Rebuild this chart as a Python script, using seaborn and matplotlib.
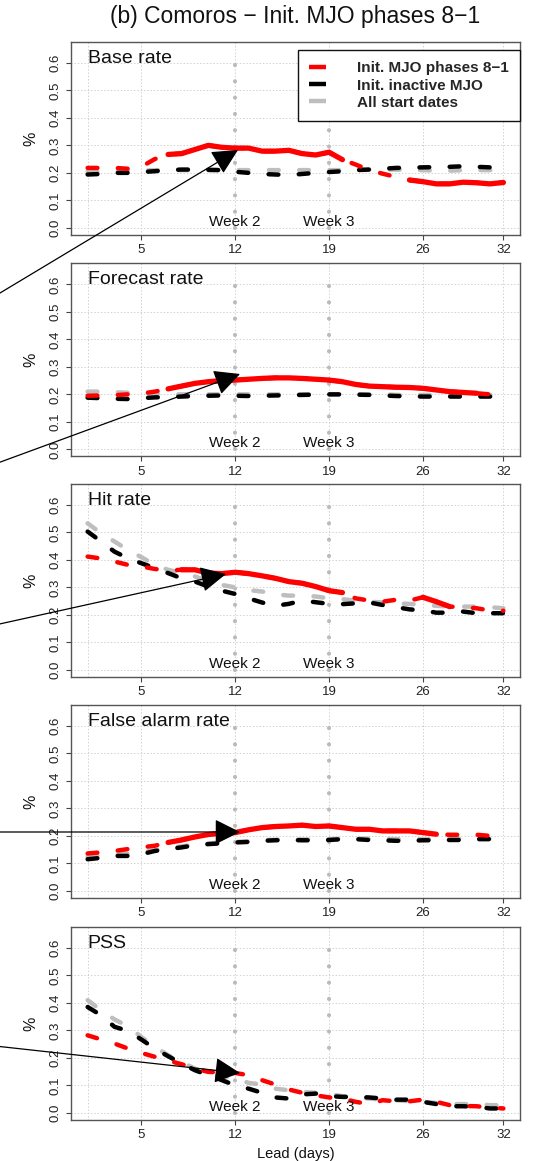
import matplotlib
matplotlib.use("Agg")
import matplotlib.pyplot as plt
import numpy as np
import pandas as pd
import seaborn as sns
from matplotlib.lines import Line2D
from matplotlib.patches import FancyArrowPatch

sns.set_theme(style="white")
plt.rcParams["font.family"] = ["Liberation Sans", "DejaVu Sans"]
plt.rcParams["lines.dash_capstyle"] = "round"
plt.rcParams["lines.solid_capstyle"] = "round"

# ---------------- data ----------------
days = list(range(1, 33))
panel_names = ["Base rate", "Forecast rate", "Hit rate", "False alarm rate", "PSS"]
series_names = ["Init. MJO phases 8\u22121", "Init. inactive MJO", "All start dates"]
title = "(b) Comoros \u2212 Init. MJO phases 8\u22121"
week_labels = ["Week 2", "Week 3"]
week_days = [12, 19]
xticks = [5, 12, 19, 26, 32]
xgrid = [1, 5, 12, 19, 26, 32]
yticks = [0.0, 0.1, 0.2, 0.3, 0.4, 0.5, 0.6]

base_red = [0.218, 0.218, 0.218, 0.215, 0.222, 0.25, 0.267, 0.27, 0.285, 0.30, 0.293, 0.29,
            0.29, 0.279, 0.279, 0.282, 0.27, 0.265, 0.275, 0.248, 0.23, 0.21, 0.197, 0.185,
            0.174, 0.168, 0.16, 0.16, 0.166, 0.164, 0.16, 0.165]
base_black = [0.194, 0.196, 0.2, 0.2, 0.203, 0.206, 0.21, 0.212, 0.212, 0.211, 0.21, 0.204,
              0.2, 0.196, 0.194, 0.192, 0.196, 0.2, 0.203, 0.206, 0.21, 0.212, 0.215, 0.218,
              0.219, 0.22, 0.221, 0.222, 0.224, 0.222, 0.22, 0.218]
base_gray = [0.205, 0.205, 0.207, 0.207, 0.208, 0.21, 0.21, 0.21, 0.21, 0.21, 0.21, 0.21,
             0.21, 0.21, 0.21, 0.21, 0.21, 0.21, 0.21, 0.21, 0.212, 0.212, 0.212, 0.212,
             0.21, 0.21, 0.208, 0.208, 0.21, 0.21, 0.21, 0.21]
base_sig = [(7, 20), (25, 32)]

fc_red = [0.195, 0.196, 0.197, 0.2, 0.203, 0.21, 0.22, 0.23, 0.24, 0.246, 0.25, 0.252,
          0.255, 0.258, 0.26, 0.26, 0.258, 0.255, 0.252, 0.246, 0.236, 0.23, 0.228, 0.226,
          0.225, 0.222, 0.216, 0.21, 0.207, 0.204, 0.2, 0.198]
fc_black = [0.188, 0.186, 0.184, 0.183, 0.186, 0.189, 0.19, 0.192, 0.194, 0.195, 0.196, 0.195,
            0.194, 0.195, 0.196, 0.197, 0.198, 0.199, 0.2, 0.2, 0.199, 0.198, 0.196, 0.194,
            0.193, 0.192, 0.192, 0.192, 0.192, 0.192, 0.192, 0.192]
fc_gray = [0.21, 0.21, 0.208, 0.206, 0.204, 0.202, 0.2, 0.2, 0.2, 0.2, 0.2, 0.2,
           0.2, 0.2, 0.2, 0.2, 0.2, 0.2, 0.2, 0.2, 0.2, 0.2, 0.2, 0.198,
           0.198, 0.198, 0.198, 0.198, 0.198, 0.198, 0.198, 0.198]
fc_sig = [(7, 30)]

hit_red = [0.412, 0.405, 0.394, 0.382, 0.376, 0.367, 0.361, 0.364, 0.364, 0.352, 0.35, 0.355,
           0.35, 0.342, 0.333, 0.321, 0.315, 0.303, 0.288, 0.281, 0.26, 0.252, 0.248, 0.255,
           0.252, 0.264, 0.248, 0.23, 0.228, 0.224, 0.216, 0.215]
hit_black = [0.503, 0.467, 0.43, 0.406, 0.388, 0.37, 0.352, 0.333, 0.321, 0.303, 0.288, 0.276,
             0.26, 0.245, 0.233, 0.24, 0.252, 0.246, 0.24, 0.239, 0.242, 0.245, 0.236, 0.228,
             0.22, 0.216, 0.208, 0.208, 0.212, 0.206, 0.206, 0.206]
hit_gray = [0.533, 0.497, 0.467, 0.436, 0.41, 0.382, 0.364, 0.352, 0.34, 0.321, 0.309, 0.3,
            0.29, 0.285, 0.275, 0.27, 0.27, 0.267, 0.26, 0.257, 0.252, 0.248, 0.245, 0.242,
            0.24, 0.236, 0.233, 0.23, 0.23, 0.23, 0.228, 0.224]
hit_sig = [(8, 20), (26, 28)]

far_red = [0.136, 0.14, 0.145, 0.152, 0.158, 0.164, 0.176, 0.185, 0.196, 0.205, 0.21, 0.212,
           0.222, 0.23, 0.234, 0.236, 0.239, 0.234, 0.236, 0.23, 0.224, 0.224, 0.218, 0.218,
           0.218, 0.212, 0.206, 0.204, 0.204, 0.204, 0.2, 0.194]
far_black = [0.115, 0.12, 0.127, 0.127, 0.133, 0.145, 0.152, 0.158, 0.166, 0.17, 0.173, 0.176,
             0.178, 0.182, 0.184, 0.185, 0.184, 0.184, 0.185, 0.188, 0.188, 0.185, 0.184, 0.182,
             0.182, 0.184, 0.184, 0.185, 0.185, 0.188, 0.188, 0.188]
far_gray = [0.125, 0.128, 0.132, 0.135, 0.14, 0.148, 0.155, 0.162, 0.168, 0.172, 0.176, 0.178,
            0.18, 0.184, 0.186, 0.187, 0.187, 0.187, 0.188, 0.19, 0.19, 0.19, 0.19, 0.188,
            0.188, 0.188, 0.188, 0.19, 0.19, 0.19, 0.19, 0.19]
far_sig = [(7, 27)]

pss_red = [0.282, 0.267, 0.252, 0.234, 0.218, 0.204, 0.19, 0.177, 0.161, 0.149, 0.147, 0.145,
           0.137, 0.119, 0.103, 0.085, 0.073, 0.064, 0.056, 0.052, 0.04, 0.032, 0.046, 0.042,
           0.042, 0.048, 0.04, 0.028, 0.025, 0.024, 0.019, 0.016]
pss_black = [0.385, 0.355, 0.313, 0.298, 0.267, 0.234, 0.206, 0.18, 0.155, 0.137, 0.119, 0.1,
             0.088, 0.073, 0.056, 0.052, 0.067, 0.07, 0.061, 0.058, 0.058, 0.056, 0.052, 0.048,
             0.048, 0.04, 0.032, 0.024, 0.024, 0.022, 0.016, 0.016]
pss_gray = [0.41, 0.373, 0.34, 0.315, 0.276, 0.24, 0.21, 0.185, 0.161, 0.14, 0.131, 0.125,
            0.109, 0.103, 0.088, 0.082, 0.076, 0.073, 0.068, 0.061, 0.056, 0.052, 0.048, 0.046,
            0.042, 0.04, 0.036, 0.032, 0.032, 0.032, 0.028, 0.028]
pss_sig = []

panels = [
    (base_red, base_black, base_gray, base_sig),
    (fc_red, fc_black, fc_gray, fc_sig),
    (hit_red, hit_black, hit_gray, hit_sig),
    (far_red, far_black, far_gray, far_sig),
    (pss_red, pss_black, pss_gray, pss_sig),
]

# arrows (figure pixel coords from top-left): start -> tip
arrows = [((-5, 296), (238, 150)),
          ((-5, 464), (240, 374)),
          ((-5, 625), (226, 574)),
          ((-5, 832), (240, 832)),
          ((-5, 1046), (240, 1073))]

# ---------------- styling ----------------
W, H = 540, 1161
RED, BLACK, GRAY = "#FF0000", "#000000", "#BEBEBE"
LW = 3.2
DASH = (0, (2.2, 4.6))

fig = plt.figure(figsize=(W / 100, H / 100), dpi=100)
left_px, right_px = 71, 520
tops = [42, 263.5, 484, 705, 927]
hpx = 193

for i, (red, black, gray, sig) in enumerate(panels):
    ax = fig.add_axes([left_px / W, 1 - (tops[i] + hpx) / H,
                       (right_px - left_px) / W, hpx / H])
    ax.set_xlim(-0.24, 33.24)
    ax.set_ylim(-0.026, 0.676)
    # grid
    for g in xgrid:
        ax.axvline(g, color="#D0D0D0", lw=0.7, ls=(0, (0.8, 2.6)), zorder=0)
    for g in yticks:
        ax.axhline(g, color="#D0D0D0", lw=0.7, ls=(0, (0.8, 2.6)), zorder=0)
    # week lines
    for wd, wl in zip(week_days, week_labels):
        ax.plot([wd, wd], [0.0, 0.645], color="#BBBBBB", lw=3.0,
                ls=(0, (0.01, 3.9)), dash_capstyle="round", zorder=1)
        ax.text(wd, -0.004, wl, ha="center", va="bottom", fontsize=11,
                color="#111111", zorder=6)
    df = pd.DataFrame({"day": days, "gray": gray, "black": black, "red": red})
    sns.lineplot(data=df, x="day", y="gray", ax=ax, color=GRAY, lw=LW,
                 linestyle=DASH, zorder=2)
    sns.lineplot(data=df, x="day", y="black", ax=ax, color=BLACK, lw=LW,
                 linestyle=DASH, zorder=3)
    sns.lineplot(data=df, x="day", y="red", ax=ax, color=RED, lw=LW,
                 linestyle=DASH, zorder=4)
    for a, b in sig:
        seg = df[(df["day"] >= a) & (df["day"] <= b)]
        sns.lineplot(data=seg, x="day", y="red", ax=ax, color=RED, lw=LW + 0.6,
                     linestyle="-", zorder=5)
    ax.text(1, 0.6, panel_names[i], ha="left", va="baseline", fontsize=14,
            color="#111111", zorder=6)

    ax.set_xticks(xticks)
    ax.set_xticklabels([str(t) for t in xticks])
    ax.set_yticks(yticks)
    ax.set_yticklabels([f"{t:.1f}" for t in yticks], rotation=90, va="center")
    ax.tick_params(axis="both", which="both", direction="out", length=3.5,
                   width=0.8, color="#444444", labelsize=9.5, labelcolor="#222222",
                   left=True, bottom=True, pad=3)
    for s in ax.spines.values():
        s.set_visible(True)
        s.set_color("#555555")
        s.set_linewidth(1.0)
    ax.set_ylabel("%", fontsize=11.5, color="#111111")
    ax.yaxis.set_label_coords((38 - left_px) / (right_px - left_px), 0.5)
    if i == 4:
        ax.set_xlabel("Lead (days)", fontsize=10.5, color="#111111", labelpad=4)
    else:
        ax.set_xlabel("")
    if i == 0:
        handles = [Line2D([], [], color=c, lw=LW, solid_capstyle="butt")
                   for c in (RED, BLACK, GRAY)]
        leg = ax.legend(handles, series_names, loc="upper right",
                        bbox_to_anchor=(1.0, 1 - 8 / hpx), borderaxespad=0,
                        frameon=True, fancybox=False, framealpha=1,
                        edgecolor="#111111", handlelength=1.1, handletextpad=2.0,
                        borderpad=0.75, labelspacing=0.2,
                        prop={"weight": "bold", "size": 11})
        leg.get_frame().set_linewidth(1.0)
        leg.set_zorder(10)

fig.text(295.5 / W, 1 - 16 / H, title, ha="center", va="center", fontsize=16.5,
         color="#111111")

for (x0, y0), (x1, y1) in arrows:
    ar = FancyArrowPatch((x0, H - y0), (x1, H - y1), transform=None,
                         arrowstyle="-|>,head_length=0.8,head_width=0.4",
                         mutation_scale=20, color="black", lw=0.9,
                         shrinkA=0, shrinkB=0, zorder=20)
    fig.add_artist(ar)

fig.savefig("out.png", dpi=100)
